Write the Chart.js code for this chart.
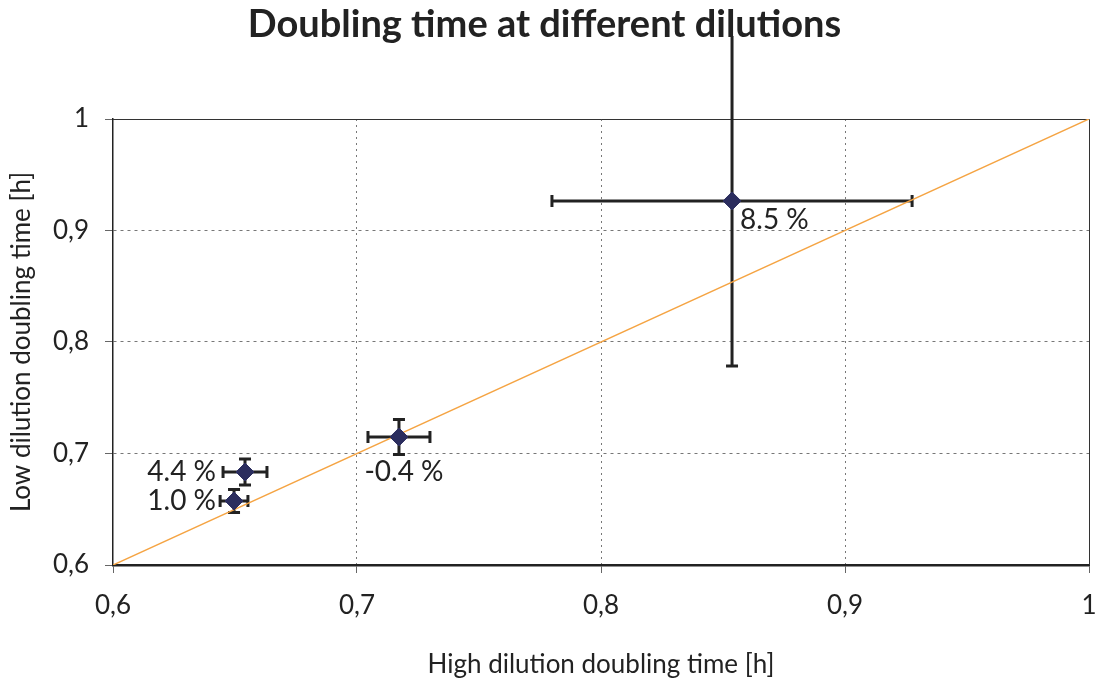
<!DOCTYPE html>
<html>
<head>
<meta charset="utf-8">
<script src="https://cdn.jsdelivr.net/npm/chart.js@4.4.1/dist/chart.umd.min.js"></script>
<style>
  html, body { margin: 0; padding: 0; background: #fff; }
  #wrap { width: 1100px; height: 684px; }
</style>
</head>
<body>
<div id="wrap"><canvas id="chart" width="1100" height="684"></canvas></div>
<script>
// data
var highDil = [0.8537, 0.7172, 0.6541, 0.6496];
var lowDil = [0.9265, 0.7148, 0.6834, 0.6574];
var highErr = [0.0738, 0.0127, 0.0090, 0.0057];
var lowErr = [0.1480, 0.0157, 0.0117, 0.0103];
var diffLabels = ['8.5 %', '-0.4 %', '4.4 %', '1.0 %'];
var diagonal = [0.6, 1];
var tickValues = [0.6, 0.7, 0.8, 0.9, 1];

// where each label sits next to its point
var labelPlace = [
  { dx: 8, dy: 19, align: 'left' },
  { dx: 5, dy: 35, align: 'center' },
  { dx: -29, dy: 0, align: 'right' },
  { dx: -18, dy: 0, align: 'right' }
];

var fontFam = 'Lato, "Open Sans", sans-serif';

function fmtTick(v) {
  if (Math.abs(v - 1) < 1e-9) return '1';
  return v.toFixed(1).replace('.', ',');
}

var errorBars = {
  id: 'errorBars',
  beforeDatasetsDraw: function(chart) {
    var ctx = chart.ctx;
    var xs = chart.scales.x, ys = chart.scales.y;
    var area = chart.chartArea;
    ctx.save();
    // frame top / right
    ctx.strokeStyle = '#333';
    ctx.lineWidth = 1;
    ctx.beginPath();
    ctx.moveTo(area.left, area.top + 0.5);
    ctx.lineTo(area.right + 0.5, area.top + 0.5);
    ctx.lineTo(area.right + 0.5, area.bottom);
    ctx.stroke();

    ctx.strokeStyle = '#222';
    ctx.lineWidth = 3;
    var cap = 6;
    for (var i = 0; i < highDil.length; i++) {
      var cx = xs.getPixelForValue(highDil[i]);
      var cy = ys.getPixelForValue(lowDil[i]);
      var x1 = xs.getPixelForValue(highDil[i] - highErr[i]);
      var x2 = xs.getPixelForValue(highDil[i] + highErr[i]);
      var y1 = ys.getPixelForValue(lowDil[i] + lowErr[i]);
      var y2 = ys.getPixelForValue(lowDil[i] - lowErr[i]);
      ctx.beginPath();
      ctx.moveTo(x1, cy); ctx.lineTo(x2, cy);
      ctx.moveTo(x1, cy - cap); ctx.lineTo(x1, cy + cap);
      ctx.moveTo(x2, cy - cap); ctx.lineTo(x2, cy + cap);
      ctx.moveTo(cx, y1); ctx.lineTo(cx, y2);
      if (lowDil[i] + lowErr[i] <= ys.max) {
        ctx.moveTo(cx - cap, y1); ctx.lineTo(cx + cap, y1);
      }
      ctx.moveTo(cx - cap, y2); ctx.lineTo(cx + cap, y2);
      ctx.stroke();
    }
    ctx.restore();
  },
  afterDatasetsDraw: function(chart) {
    var ctx = chart.ctx;
    var xs = chart.scales.x, ys = chart.scales.y;
    ctx.save();
    ctx.fillStyle = '#222';
    ctx.font = '28px ' + fontFam;
    ctx.textBaseline = 'middle';
    for (var i = 0; i < diffLabels.length; i++) {
      var p = labelPlace[i];
      ctx.textAlign = p.align;
      ctx.fillText(diffLabels[i], xs.getPixelForValue(highDil[i]) + p.dx, ys.getPixelForValue(lowDil[i]) + p.dy);
    }
    ctx.restore();
  }
};

var points = highDil.map(function(x, i) { return { x: x, y: lowDil[i] }; });
var diagPts = diagonal.map(function(v) { return { x: v, y: v }; });

var gridColor = function(c) {
  var v = c.tick ? c.tick.value : null;
  if (v === null || Math.abs(v - 0.6) < 1e-9 || Math.abs(v - 1) < 1e-9) return 'rgba(0,0,0,0)';
  return '#777';
};

new Chart(document.getElementById('chart'), {
  type: 'scatter',
  data: {
    datasets: [
      {
        type: 'scatter',
        data: points,
        pointStyle: 'rectRot',
        pointRadius: 9,
        backgroundColor: '#2b2d5e',
        borderColor: '#2b2d5e',
        borderWidth: 1,
        order: 0
      },
      {
        type: 'line',
        data: diagPts,
        borderColor: '#f5a443',
        borderWidth: 1.5,
        pointRadius: 0,
        fill: false,
        order: 1
      }
    ]
  },
  options: {
    responsive: false,
    animation: false,
    layout: { padding: { left: 0, right: 11, top: 0, bottom: 0 } },
    plugins: {
      legend: { display: false },
      tooltip: { enabled: false },
      title: {
        display: true,
        text: 'Doubling time at different dilutions',
        color: '#222',
        font: { family: fontFam, size: 38, weight: 'bold' },
        padding: { top: 2, bottom: 71.4 }
      }
    },
    scales: {
      x: {
        type: 'linear',
        min: 0.6, max: 1,
        afterBuildTicks: function(s) { s.ticks = tickValues.map(function(v) { return { value: v }; }); },
        afterFit: function(s) { s.height = 119; s.paddingRight = 0; s.paddingLeft = 0; },
        ticks: {
          callback: fmtTick,
          color: '#222',
          padding: 17,
          maxRotation: 0,
          font: { family: fontFam, size: 26 }
        },
        grid: {
          color: gridColor,
          lineWidth: 1,
          tickLength: 8,
          tickColor: '#666',
          tickWidth: 1,
          tickBorderDash: []
        },
        border: { display: true, color: '#222', width: 2.5, dash: [2, 4] },
        title: {
          display: true,
          text: 'High dilution doubling time [h]',
          color: '#222',
          font: { family: fontFam, size: 26 },
          padding: { top: 0, bottom: 4 }
        }
      },
      y: {
        type: 'linear',
        min: 0.6, max: 1,
        afterBuildTicks: function(s) { s.ticks = tickValues.map(function(v) { return { value: v }; }); },
        afterFit: function(s) { s.width = 113; s.paddingTop = 0; s.paddingBottom = 0; },
        ticks: {
          callback: fmtTick,
          color: '#222',
          padding: 16,
          font: { family: fontFam, size: 26 }
        },
        grid: {
          color: gridColor,
          lineWidth: 1,
          tickLength: 8,
          tickColor: '#666',
          tickWidth: 1,
          tickBorderDash: []
        },
        border: { display: true, color: '#222', width: 1.5, dash: [3, 4] },
        title: {
          display: true,
          text: 'Low dilution doubling time [h]',
          color: '#222',
          font: { family: fontFam, size: 26 },
          padding: { top: 6, bottom: 0 }
        }
      }
    }
  },
  plugins: [errorBars]
});
</script>
</body>
</html>
